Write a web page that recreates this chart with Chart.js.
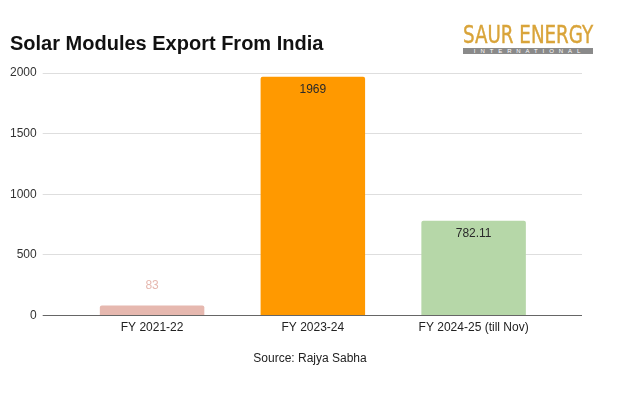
<!DOCTYPE html>
<html>
<head>
<meta charset="utf-8">
<script src="https://cdn.jsdelivr.net/npm/chart.js@4/dist/chart.umd.min.js"></script>
<style>
    body { margin: 0; background: #fff; font-family: "Liberation Sans", Arial, sans-serif; }
    #wrap { position: relative; width: 620px; height: 400px; overflow: hidden; }
    #chart { position: absolute; left: 0; top: 0; }
    #title { position: absolute; left: 10px; top: 32px; font-size: 20px; font-weight: bold; color: #111; }
    #logo { position: absolute; left: 463px; top: 22px; width: 130px; }
    #logo .big { font-family: "Liberation Sans Narrow", "DejaVu Sans Condensed", sans-serif; font-stretch: condensed;
        font-size: 25px; color: #d9a43a; line-height: 25px; white-space: nowrap; transform-origin: left top;
        -webkit-text-stroke: 0.4px #d9a43a; }
    #logo .small { background: #8a8a8a; color: #fff; font-size: 6px; line-height: 6px; height: 6px;
        letter-spacing: 4.9px; text-align: center; margin-top: 1px; padding-left: 3px; }
    #source { position: absolute; left: 0; width: 620px; top: 351px; text-align: center; font-size: 12px; color: #222; }
</style>
</head>
<body>
<div id="wrap">
    <canvas id="chart" width="620" height="400"></canvas>
    <div id="title">Solar Modules Export From India</div>
    <div id="logo"><div class="big" id="logoText">SAUR ENERGY</div><div class="small">INTERNATIONAL</div></div>
    <div id="source">Source: Rajya Sabha</div>
</div>
<script>
let categories = ["FY 2021-22", "FY 2023-24", "FY 2024-25 (till Nov)"];
let exports = [83, 1969, 782.11];
let valueLabels = ["83", "1969", "782.11"];
let barColors = ["#e6b8af", "#ff9900", "#b6d7a8"];
let yTicks = [0, 500, 1000, 1500, 2000];

// fit logo text to its box
let logoText = document.getElementById("logoText");
logoText.style.transform = "scaleX(" + (130 / logoText.scrollWidth) + ")";

let gridColor = (ctx) => (ctx.tick && ctx.tick.value === 0) ? "#666" : "#dedede";

const barLabels = {
    id: "barLabels",
    afterDatasetsDraw(chart) {
        let ctx = chart.ctx;
        let meta = chart.getDatasetMeta(0);
        ctx.save();
        ctx.font = "12px 'Liberation Sans', Arial, sans-serif";
        ctx.textAlign = "center";
        ctx.textBaseline = "middle";
        meta.data.forEach((bar, i) => {
            let h = bar.base - bar.y;
            if (h < 25) {
                ctx.fillStyle = barColors[i];
                ctx.fillText(valueLabels[i], bar.x, bar.y - 20);
            } else {
                ctx.fillStyle = "#2a2a2a";
                ctx.fillText(valueLabels[i], bar.x, bar.y + 13);
            }
        });
        ctx.restore();
    }
};

new Chart(document.getElementById("chart"), {
    type: "bar",
    data: {
        labels: categories,
        datasets: [{
            data: exports,
            backgroundColor: barColors,
            barPercentage: 0.65,
            categoryPercentage: 1,
            borderRadius: { topLeft: 2, topRight: 2 },
            borderSkipped: "bottom"
        }]
    },
    options: {
        responsive: false,
        animation: false,
        layout: { padding: { left: 4, right: 38, top: 73, bottom: 60 } },
        plugins: { legend: { display: false }, tooltip: { enabled: false } },
        scales: {
            x: {
                grid: { display: false, drawTicks: false },
                border: { display: false },
                ticks: { color: "#222", padding: 5, font: { size: 12, family: "'Liberation Sans', Arial" } }
            },
            y: {
                min: 0, max: 2000,
                afterBuildTicks: (scale) => { scale.ticks = yTicks.map(v => ({ value: v })); },
                grid: { color: gridColor, tickLength: 29, tickColor: gridColor },
                border: { display: false },
                ticks: { color: "#333", padding: 6, callback: (v) => String(v), font: { size: 12, family: "'Liberation Sans', Arial" } }
            },
            y2: {
                position: "right",
                min: 0, max: 2000,
                afterBuildTicks: (scale) => { scale.ticks = yTicks.map(v => ({ value: v })); },
                grid: { drawOnChartArea: false, tickLength: 28, color: gridColor, tickColor: gridColor },
                border: { display: false },
                ticks: { display: false }
            }
        }
    },
    plugins: [barLabels]
});
</script>
</body>
</html>
